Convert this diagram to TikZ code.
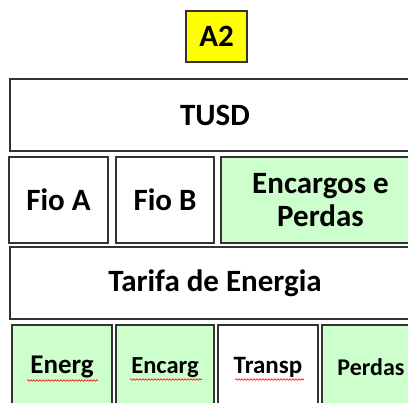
\documentclass[tikz,border=0pt]{standalone}
\usepackage{fontspec}
\setmainfont{Carlito}
\usetikzlibrary{decorations.pathmorphing,calc}
\definecolor{lgreen}{HTML}{CCFFCC}
\definecolor{bord}{HTML}{333333}
\definecolor{ayellow}{HTML}{FFFF00}
\begin{document}
\begin{tikzpicture}[x=1pt,y=-1pt,
  cell/.style={draw=bord,line width=1.6pt,anchor=north west,inner sep=0pt,outer sep=0pt,
    font=\bfseries\fontsize{31}{32.5}\selectfont,align=center},
  small/.style={font=\bfseries\fontsize{#1}{#1}\selectfont},
  wavy/.style={draw=red,line width=0.6pt,decorate,
    decoration={snake,amplitude=0.8pt,segment length=3pt}}]
\useasboundingbox (0,0) rectangle (408,403);
\clip (0,0) rectangle (408,403);
\node[cell,fill=ayellow,minimum width=61pt,minimum height=51pt] (a2) at (186,11) {A2};
\node[cell,minimum width=410pt,minimum height=72pt] (tusd) at (10,79) {TUSD};
\node[cell,minimum width=99pt,minimum height=86pt] (fioa) at (9,157) {Fio A};
\node[cell,minimum width=98pt,minimum height=86pt] (fiob) at (116,157) {Fio B};
\node[cell,fill=lgreen,minimum width=199pt,minimum height=86pt] (encp) at (221,157) {Encargos e\\Perdas};
\node[cell,minimum width=410pt,minimum height=72pt] (tarifa) at (10,247) {Tarifa de Energia};
\node[cell,fill=lgreen,small=27,minimum width=100pt,minimum height=85pt] (energ) at (12,325) {Energ};
\node[cell,fill=lgreen,small=24.5,minimum width=98pt,minimum height=85pt] (encarg) at (116,325) {Encarg};
\node[cell,small=25,minimum width=100pt,minimum height=85pt] (transp) at (218,325) {Transp};
\node[cell,fill=lgreen,small=24,minimum width=98pt,minimum height=85pt] (perdas) at (322,325) {Perdas};
\draw[wavy] ($(energ.center)+(-35,13)$) -- ($(energ.center)+(36,13)$);
\draw[wavy] ($(encarg.center)+(-35,12)$) -- ($(encarg.center)+(37,12)$);
\draw[wavy] ($(transp.center)+(-33,12)$) -- ($(transp.center)+(36,12)$);
\end{tikzpicture}
\end{document}
